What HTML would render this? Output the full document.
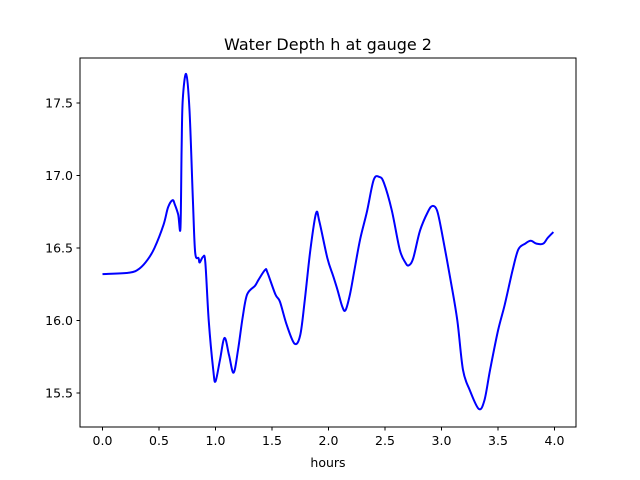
<!DOCTYPE html>
<html><head><meta charset="utf-8"><style>
body{margin:0;background:#fff}
svg{display:block;font-family:"DejaVu Sans","Liberation Sans",sans-serif}
</style></head><body>
<svg id="chart" width="640" height="480">
<rect width="640" height="480" fill="#fff"/>
<text x="328" y="50" font-size="16" text-anchor="middle">Water Depth h at gauge 2</text>
<g id="axes"></g>
<rect x="80" y="58" width="496" height="369" fill="none" stroke="#000" stroke-width="1"/>
<text x="328" y="467" font-size="12.5" text-anchor="middle">hours</text>
</svg>
<script>
const hours=[0,0.24,0.33,0.40,0.46,0.54,0.58,0.62,0.64,0.67,0.69,0.70,0.71,0.74,0.77,0.80,0.82,0.85,0.86,0.89,0.91,0.94,0.98,1.00,1.04,1.08,1.12,1.16,1.20,1.24,1.28,1.35,1.38,1.44,1.46,1.53,1.57,1.63,1.70,1.75,1.79,1.84,1.89,1.92,1.99,2.04,2.08,2.12,2.15,2.19,2.23,2.28,2.34,2.40,2.45,2.49,2.56,2.63,2.68,2.71,2.75,2.81,2.88,2.92,2.96,3.00,3.08,3.14,3.19,3.25,3.33,3.38,3.43,3.50,3.56,3.63,3.68,3.74,3.79,3.84,3.90,3.94,3.99];
const depth=[16.32,16.33,16.36,16.42,16.50,16.66,16.78,16.83,16.80,16.73,16.64,17.18,17.52,17.70,17.45,16.83,16.47,16.43,16.40,16.44,16.40,16.00,15.66,15.58,15.73,15.88,15.76,15.64,15.80,16.02,16.18,16.24,16.28,16.35,16.33,16.18,16.13,15.97,15.84,15.90,16.14,16.49,16.74,16.68,16.43,16.31,16.21,16.10,16.07,16.18,16.35,16.56,16.75,16.97,16.99,16.95,16.76,16.49,16.40,16.38,16.43,16.62,16.75,16.79,16.76,16.62,16.28,16.00,15.66,15.52,15.39,15.45,15.66,15.93,16.11,16.35,16.49,16.53,16.55,16.53,16.53,16.57,16.61];
const xTicks=[0,0.5,1.0,1.5,2.0,2.5,3.0,3.5,4.0];
const yTicks=[15.5,16.0,16.5,17.0,17.5];
const X=h=>102.5+h*113;
const Y=v=>103+(17.5-v)*145;
const NS="http://www.w3.org/2000/svg";
const ax=document.getElementById('axes');
function mk(t,a){const e=document.createElementNS(NS,t);for(const k in a)e.setAttribute(k,a[k]);return e;}
xTicks.forEach(t=>{
  const l=mk('line',{x1:X(t),x2:X(t),y1:427,y2:430.5,stroke:'#000'});
  
  
  ax.appendChild(l);
  const s=mk('text',{x:X(t),y:445,'font-size':12.5,'text-anchor':'middle'});
  
  
  s.textContent=t.toFixed(1);ax.appendChild(s);
});
yTicks.forEach(t=>{
  const l=mk('line',{x1:76.5,x2:80,y1:Y(t),y2:Y(t),stroke:'#000'});
  
  
  ax.appendChild(l);
  const s=mk('text',{x:73,y:Y(t)+4.5,'font-size':12.5,'text-anchor':'end'});
  
  
  s.textContent=t.toFixed(1);ax.appendChild(s);
});
const pts=hours.map((h,i)=>[X(h),Y(depth[i])]);
let d='M'+pts[0][0]+','+pts[0][1];
for(let i=0;i<pts.length-1;i++){
  const p0=pts[Math.max(0,i-1)],p1=pts[i],p2=pts[i+1],p3=pts[Math.min(pts.length-1,i+2)];
  const c1=[p1[0]+(p2[0]-p0[0])/6,p1[1]+(p2[1]-p0[1])/6];
  const c2=[p2[0]-(p3[0]-p1[0])/6,p2[1]-(p3[1]-p1[1])/6];
  d+=' C'+c1+' '+c2+' '+p2;
}
const path=mk('path',{d:d,fill:'none',stroke:'#0000ff','stroke-width':2,'stroke-linejoin':'round'});


document.getElementById('chart').appendChild(path);
</script>
</body></html>
